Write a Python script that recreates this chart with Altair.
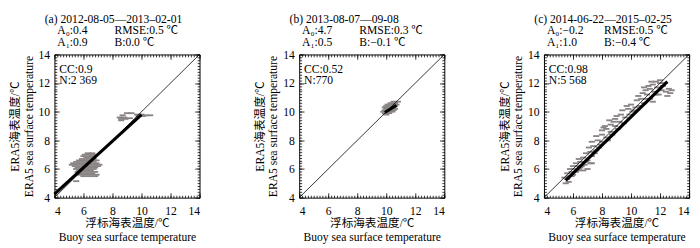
import altair as alt
import pandas as pd
import numpy as np

FONT = "Liberation Serif, Noto Sans CJK SC"

# ---------------- data ----------------
titles = ["(a) 2012-08-05\u20142013\u201302-01",
          "(b) 2013-08-07\u201409-08",
          "(c) 2014-06-22\u20142015\u201302-25"]
a0_text = ["A\u2080:0.4", "A\u2080:4.7", "A\u2080:\u22120.2"]
a1_text = ["A\u2081:0.9", "A\u2081:0.5", "A\u2081:1.0"]
rmse_text = ["RMSE:0.5 \u2103", "RMSE:0.3 \u2103", "RMSE:0.5 \u2103"]
b_text = ["B:0.0 \u2103", "B:\u22120.1 \u2103", "B:\u22120.4 \u2103"]
cc_text = ["CC:0.9", "CC:0.52", "CC:0.98"]
n_text = ["N:2 369", "N:770", "N:5 568"]

major_ticks = [4, 6, 8, 10, 12, 14]
minor_ticks = [round(4 + 0.2 * i, 1) for i in range(51)]

# panel (a) scatter
a_x = [6.3, 6.6, 6.1, 6.5, 6.8, 6.0, 6.4, 6.7, 6.2, 6.6, 5.9, 6.3, 6.7,
       5.7, 6.1, 6.5, 6.9, 5.5, 5.9, 6.3, 6.7, 5.3, 5.7, 6.1, 6.5, 6.9,
       5.2, 5.6, 6.0, 6.4, 6.8, 7.1, 5.4, 5.8, 6.2, 6.6, 7.0, 5.6, 6.0,
       6.4, 6.8, 5.5, 5.9, 6.3, 6.7, 5.7, 6.1, 6.5, 5.6, 6.0, 6.4, 6.8,
       5.8, 6.2, 6.6, 5.7, 6.1, 6.5, 6.9, 6.0, 6.4, 6.8, 5.5,
       9.0, 9.3, 9.7, 10.0, 8.7, 10.3, 10.6, 9.8, 10.1, 8.5, 8.8, 9.2,
       8.6, 8.9, 8.6]
a_y = [7.1, 7.1, 7.0, 7.0, 7.0, 6.9, 6.9, 6.9, 6.8, 6.8, 6.7, 6.7, 6.7,
       6.6, 6.6, 6.6, 6.6, 6.5, 6.5, 6.5, 6.5, 6.4, 6.4, 6.4, 6.4, 6.4,
       6.3, 6.3, 6.3, 6.3, 6.3, 6.3, 6.2, 6.2, 6.2, 6.2, 6.2, 6.1, 6.1,
       6.1, 6.1, 6.0, 6.0, 6.0, 6.0, 5.9, 5.9, 5.9, 5.8, 5.8, 5.8, 5.8,
       5.7, 5.7, 5.7, 5.6, 5.6, 5.6, 5.6, 5.5, 5.5, 5.5, 5.15,
       9.9, 9.9, 9.8, 9.8, 9.75, 9.75, 9.75, 9.7, 9.7, 9.6, 9.6, 9.55,
       9.5, 9.5, 9.4]

# panel (b) scatter
b_x = [10.5, 10.8, 10.3, 10.6, 10.1, 10.4, 10.7, 10.0, 10.3, 10.6,
       9.9, 10.2, 10.5, 10.0, 10.3, 10.6, 9.9, 10.2, 10.5, 9.8, 10.1,
       10.4, 9.9, 10.2, 10.0]
b_y = [10.7, 10.7, 10.6, 10.6, 10.5, 10.5, 10.5, 10.4, 10.4, 10.4,
       10.3, 10.3, 10.3, 10.2, 10.2, 10.2, 10.1, 10.1, 10.1, 10.0, 10.0,
       10.0, 9.9, 9.9, 9.8]

# panel (c) scatter
c_x = [5.5, 5.7, 5.4, 5.7, 6.0, 5.6, 5.9, 6.2, 5.8, 6.1, 6.4, 6.0, 6.3,
       6.7, 7.0, 6.2, 6.5, 6.8, 7.2, 6.4, 6.7, 7.0, 7.3,
       6.9, 7.2, 7.5, 7.1, 7.4, 7.8, 7.3, 7.7, 8.0, 7.6, 8.0, 8.3, 8.0,
       8.3, 8.6, 8.2, 8.6, 8.9, 8.5, 8.9, 9.2, 9.0, 9.3, 9.6, 9.4, 9.8,
       10.1, 9.7, 10.0, 10.3,
       10.4, 10.7, 10.5, 10.8, 11.1, 11.0, 11.3, 11.6, 11.2, 11.5, 11.8,
       11.4, 11.7, 12.0, 12.1, 12.4, 12.7, 12.5, 12.8, 11.9, 12.2, 12.0,
       10.9, 11.3, 11.5,
       5.9, 6.3, 6.6, 6.9, 7.6, 7.9, 8.4, 8.7, 9.1, 9.5, 9.9, 10.2, 10.6,
       11.0, 11.7, 12.3, 7.3, 8.1, 8.8, 5.6, 6.5, 10.9, 12.6]
c_y = [5.0, 5.1, 5.4, 5.5, 5.6, 5.7, 5.8, 5.8, 6.0, 6.0, 6.0, 6.2, 6.2,
       5.9, 6.0, 6.4, 6.5, 6.3, 6.4, 6.7, 6.8, 6.6, 6.9,
       7.1, 7.2, 7.1, 7.5, 7.6, 7.5, 7.9, 8.0, 7.9, 8.3, 8.4, 8.2, 8.7,
       8.8, 8.6, 9.0, 9.1, 9.0, 9.4, 9.5, 9.3, 9.7, 9.8, 9.6, 10.1, 10.2,
       10.0, 10.4, 10.5, 10.3,
       10.8, 10.9, 11.1, 11.3, 11.2, 11.5, 11.6, 11.4, 11.8, 11.9, 11.7,
       12.1, 12.1, 12.0, 11.5, 11.4, 11.3, 11.1, 11.5, 11.2, 11.8, 12.2,
       10.6, 10.9, 10.7,
       5.5, 5.9, 6.2, 6.5, 7.3, 7.7, 8.0, 8.4, 8.8, 9.2, 9.8, 10.1, 10.4,
       10.9, 11.2, 12.0, 6.4, 8.9, 9.3, 5.3, 6.1, 11.7, 11.6]

scatter_x = [a_x, b_x, c_x]
scatter_y = [a_y, b_y, c_y]

# fitted lines (endpoints)
fit_x = [[4.0, 10.0], [9.9, 10.7], [5.5, 12.5]]
fit_y = [[4.25, 9.8], [9.95, 10.45], [5.2, 12.1]]

# 1:1 line
diag_x = [4, 14]
diag_y = [4, 14]

# ---------------- styling ----------------
W, H = 150, 148
FS = 12
DASH = "M-1,-0.3L1,-0.3L1,0.3L-1,0.3Z"
GRAY = "#8b8484"


def panel(i):
    scale = alt.Scale(domain=[4, 14], nice=False, zero=False)
    pts = pd.DataFrame({"x": scatter_x[i], "y": scatter_y[i]})
    fit = pd.DataFrame({"x": fit_x[i], "y": fit_y[i]})
    diag = pd.DataFrame({"x": diag_x, "y": diag_y})

    def ax(orient, values, size, labels=False, title=None, **kw):
        d = dict(orient=orient, values=values, tickSize=size, offset=-size,
                 domain=False, grid=False, labels=labels, tickColor="black",
                 tickWidth=0.8)
        if labels:
            d.update(labelFont=FONT, labelFontSize=FS, labelColor="black")
        if title is not None:
            d.update(title=title, titleFont=FONT, titleFontSize=FS,
                     titleFontWeight="normal", titleColor="black",
                     titleLineHeight=14)
        else:
            d.update(title=None)
        d.update(kw)
        return alt.Axis(**d)

    scatter = alt.Chart(pts).mark_point(
        shape=DASH, filled=True, color=GRAY, size=40, opacity=1, strokeWidth=0
    ).encode(
        x=alt.X("x:Q", scale=scale,
                axis=ax("bottom", major_ticks, 5, labels=True,
                        title=["浮标海表温度/\u2103", "Buoy sea surface temperature"],
                        labelPadding=8, titlePadding=2)),
        y=alt.Y("y:Q", scale=scale,
                axis=ax("left", major_ticks, 5, labels=True,
                        title=["ERA5海表温度/\u2103", "ERA5 sea surface temperature"],
                        labelPadding=5, titlePadding=3)),
    )

    diag_line = alt.Chart(diag).mark_line(color="black", strokeWidth=0.8).encode(
        x=alt.X("x:Q", scale=scale, axis=ax("top", major_ticks, 5)),
        y=alt.Y("y:Q", scale=scale, axis=ax("right", major_ticks, 5)),
    )

    fit_line = alt.Chart(fit).mark_line(color="black", strokeWidth=3.2).encode(
        x=alt.X("x:Q", scale=scale, axis=ax("bottom", minor_ticks, 2.5)),
        y=alt.Y("y:Q", scale=scale, axis=ax("left", minor_ticks, 2.5)),
    )

    ghost = alt.Chart(diag).mark_line(opacity=0).encode(
        x=alt.X("x:Q", scale=scale, axis=ax("top", minor_ticks, 2.5)),
        y=alt.Y("y:Q", scale=scale, axis=ax("right", minor_ticks, 2.5)),
    )

    def label(txt, x, y):
        return alt.Chart(pd.DataFrame({"t": [txt]})).mark_text(
            align="left", baseline="middle", font=FONT, fontSize=FS,
            color="black", x=x, y=y
        ).encode(text="t:N")

    texts = [
        label(titles[i], -10, -37),
        label(a0_text[i], 3, -25),
        label(rmse_text[i], 62, -25),
        label(a1_text[i], 3, -13),
        label(b_text[i], 62, -13),
        label(cc_text[i], 5, 15),
        label(n_text[i], 5, 27),
    ]

    return alt.layer(scatter, diag_line, fit_line, ghost, *texts).resolve_axis(
        x="independent", y="independent"
    ).properties(width=W, height=H)


chart = alt.hconcat(panel(0), panel(1), panel(2), spacing=52).configure(
    padding=0, background="white"
).configure_view(stroke="black", strokeWidth=1)

chart.save("out.html", embed_options={"renderer": "svg", "actions": False})
